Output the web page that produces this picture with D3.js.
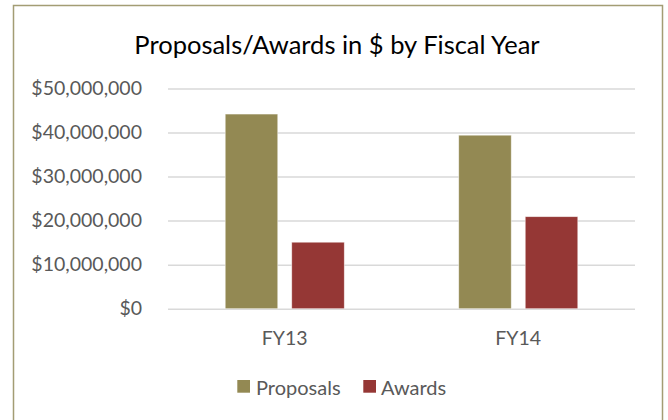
<!DOCTYPE html>
<html><head><meta charset="utf-8">
<script src="https://cdn.jsdelivr.net/npm/d3@7"></script>
<style>body{margin:0;background:#fff}svg{display:block}</style>
</head><body>
<svg id="c" width="668" height="420"></svg>
<script>
const categories = ["FY13", "FY14"];
const seriesNames = ["Proposals", "Awards"];
const proposals = [44200000, 39400000];
const awards = [15100000, 20900000];
const yTicks = [0, 10000000, 20000000, 30000000, 40000000, 50000000];
const colors = ["#938953", "#953735"];

const svg = d3.select("#c");
const font = "Lato, 'Noto Sans', sans-serif";
const W = 668, H = 420;
const m = {left: 168, right: 33, top: 88.5, bottom: 111.3};

svg.append("rect").attr("x", 13.5).attr("y", 5.5).attr("width", 649).attr("height", 430)
  .attr("fill", "#fff").attr("stroke", "#a39d74").attr("stroke-width", 1.5);

svg.append("text").attr("x", 337).attr("y", 44).attr("text-anchor", "middle")
  .attr("dominant-baseline", "central").attr("font-family", font).attr("font-size", 25.5)
  .attr("fill", "#000").text("Proposals/Awards in $ by Fiscal Year");

const x0 = d3.scaleBand().domain(categories).range([m.left, W - m.right]).paddingInner(0.49).paddingOuter(0.245);
const x1 = d3.scaleBand().domain(seriesNames).range([0, x0.bandwidth()]).paddingInner(0.21);
const y = d3.scaleLinear().domain([0, 50000000]).range([H - m.bottom, m.top]);

const fmt = v => "$" + d3.format(",")(v);
const yAxis = d3.axisLeft(y).tickValues(yTicks).tickSize(-(W - m.right - m.left)).tickFormat(fmt).tickPadding(26);
const gy = svg.append("g").attr("transform", `translate(${m.left},0)`).call(yAxis);
gy.select(".domain").remove();
gy.selectAll(".tick line").attr("stroke", "#d9d9d9").attr("stroke-width", 1.5);
gy.selectAll(".tick text").attr("font-family", font).attr("font-size", 19.5).attr("fill", "#595959");

const data = categories.map((c, i) => ({c, vals: [proposals[i], awards[i]]}));
const g = svg.append("g");
data.forEach(d => {
  d.vals.forEach((v, j) => {
    g.append("rect")
      .attr("x", x0(d.c) + x1(seriesNames[j]))
      .attr("y", y(v))
      .attr("width", x1.bandwidth())
      .attr("height", y(0) - y(v))
      .attr("fill", colors[j])
      .attr("stroke", "#ffffff").attr("stroke-opacity", 0.6).attr("stroke-width", 0.8);
  });
});

const xAxis = d3.axisBottom(x0).tickSize(0).tickPadding(22);
const gx = svg.append("g").attr("transform", `translate(0,${y(0)})`).call(xAxis);
gx.select(".domain").remove();
gx.selectAll(".tick text").attr("font-family", font).attr("font-size", 19.5).attr("fill", "#595959");

const legend = [{x: 237.3, tx: 256}, {x: 363.3, tx: 381}];
seriesNames.forEach((s, i) => {
  svg.append("rect").attr("x", legend[i].x).attr("y", 380).attr("width", 12.7).attr("height", 12.7).attr("fill", colors[i]);
  svg.append("text").attr("x", legend[i].tx).attr("y", 386.5).attr("dominant-baseline", "central")
    .attr("font-family", font).attr("font-size", 20).attr("fill", "#595959").text(s);
});
</script>
</body></html>
